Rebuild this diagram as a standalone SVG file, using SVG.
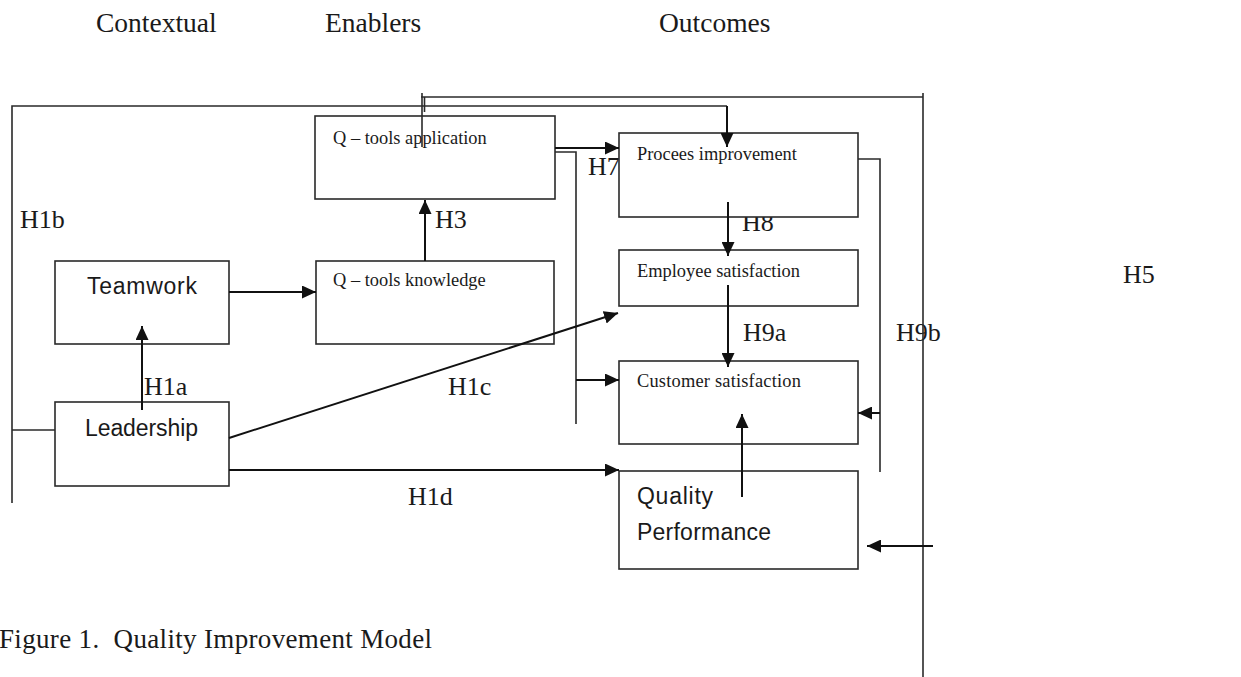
<svg xmlns="http://www.w3.org/2000/svg" width="1241" height="677" viewBox="0 0 1241 677">
  <style>
    .serif { font-family: "Liberation Serif", "Times New Roman", serif; fill: #1a1a1a; }
    .head { font-size: 27.5px; }
    .hyp { font-size: 26px; }
    .lbl { font-size: 18.4px; }
    .sans { font-family: "Liberation Sans", Arial, sans-serif; font-size: 23px; fill: #1a1a1a; }
    .box { fill: #ffffff; stroke: #2a2a2a; stroke-width: 1.6; }
    .line { fill: none; stroke: #2a2a2a; stroke-width: 1.6; }
    .arrow { fill: none; stroke: #111111; stroke-width: 2; marker-end: url(#head); }
  </style>
  <defs>
    <marker id="head" markerUnits="userSpaceOnUse" markerWidth="15" markerHeight="13" refX="14" refY="6.5" orient="auto">
      <path d="M0,0 L14,6.5 L0,13 Z" fill="#111111"/>
    </marker>
  </defs>

  <rect width="1241" height="677" fill="#ffffff"/>

  <!-- column headings -->
  <g id="headings">
    <text class="serif head" x="96" y="32">Contextual</text>
    <text class="serif head" x="325" y="32">Enablers</text>
    <text class="serif head" x="659" y="32">Outcomes</text>
  </g>

  <!-- hypothesis labels -->
  <g id="hypotheses">
    <text class="serif hyp" x="20" y="228">H1b</text>
    <text class="serif hyp" x="435" y="228">H3</text>
    <text class="serif hyp" x="588" y="175">H7</text>
    <text class="serif hyp" x="742" y="231">H8</text>
    <text class="serif hyp" x="1123" y="283">H5</text>
    <text class="serif hyp" x="743" y="341">H9a</text>
    <text class="serif hyp" x="896" y="341">H9b</text>
    <text class="serif hyp" x="144" y="395">H1a</text>
    <text class="serif hyp" x="448" y="395">H1c</text>
    <text class="serif hyp" x="408" y="505">H1d</text>
  </g>

  <!-- nodes -->
  <g id="qtools-application">
    <rect class="box" x="315" y="116" width="240" height="83"/>
    <text class="serif lbl" x="333" y="144">Q – tools application</text>
  </g>
  <g id="qtools-knowledge">
    <rect class="box" x="316" y="261" width="238" height="83"/>
    <text class="serif lbl" x="333" y="286">Q – tools knowledge</text>
  </g>
  <g id="teamwork">
    <rect class="box" x="55" y="261" width="174" height="83"/>
    <text class="sans" x="87" y="294" textLength="110">Teamwork</text>
  </g>
  <g id="leadership">
    <rect class="box" x="55" y="402" width="174" height="84"/>
    <text class="sans" x="85" y="436" textLength="113">Leadership</text>
  </g>
  <g id="process-improvement">
    <rect class="box" x="619" y="133" width="239" height="84"/>
    <text class="serif lbl" x="637" y="160">Procees improvement</text>
  </g>
  <g id="employee-satisfaction">
    <rect class="box" x="619" y="250" width="239" height="56"/>
    <text class="serif lbl" x="637" y="277">Employee satisfaction</text>
  </g>
  <g id="customer-satisfaction">
    <rect class="box" x="619" y="361" width="239" height="83"/>
    <text class="serif lbl" x="637" y="387" font-size="17" letter-spacing="0.2">Customer satisfaction</text>
  </g>
  <g id="quality-performance">
    <rect class="box" x="619" y="471" width="239" height="98"/>
    <text class="sans" x="637" y="504" textLength="76">Quality</text>
    <text class="sans" x="637" y="540" textLength="134">Performance</text>
  </g>

  <!-- connectors -->
  <g id="connectors">
    <!-- outer frame lines -->
    <polyline class="line" points="12,503 12,106 727,106"/>
    <line class="line" x1="12" y1="430" x2="55" y2="430"/>
    <line class="line" x1="421" y1="97" x2="923" y2="97"/>
    <line class="line" x1="923" y1="93" x2="923" y2="677"/>
    <line class="line" x1="422" y1="93" x2="422" y2="147"/>
    <line class="line" x1="424.5" y1="97" x2="424.5" y2="112"/>
    <line class="arrow" x1="727" y1="106" x2="727" y2="147"/>

    <!-- enablers -->
    <line class="arrow" x1="229" y1="292" x2="316" y2="292"/>
    <line class="arrow" x1="142" y1="410" x2="142" y2="326"/>
    <line class="arrow" x1="425" y1="261" x2="425" y2="200"/>

    <!-- Q-tools application to outcomes -->
    <line class="arrow" x1="555" y1="148" x2="619" y2="148"/>
    <polyline class="line" points="555,152 576,152 576,424"/>
    <line class="arrow" x1="576" y1="380" x2="619" y2="380"/>

    <!-- leadership to outcomes -->
    <line class="arrow" x1="229" y1="438" x2="618" y2="313"/>
    <line class="arrow" x1="229" y1="470" x2="619" y2="470"/>

    <!-- outcome chain -->
    <line class="arrow" x1="728" y1="202" x2="728" y2="256"/>
    <line class="arrow" x1="728" y1="285" x2="728" y2="367"/>
    <line class="arrow" x1="742" y1="497" x2="742" y2="414"/>

    <!-- process improvement feedback -->
    <polyline class="line" points="858,159 880,159 880,472"/>
    <line class="arrow" x1="880" y1="413" x2="858" y2="413"/>

    <!-- right-hand feed into quality performance -->
    <line class="arrow" x1="933" y1="546" x2="867" y2="546"/>
  </g>

  <!-- caption -->
  <text class="serif" x="-1" y="648" font-size="27" textLength="433">Figure 1.&#160; Quality Improvement Model</text>
</svg>
